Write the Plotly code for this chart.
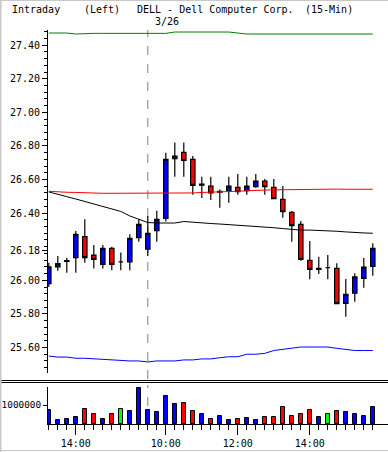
import plotly.graph_objects as go

# ---------------- data ----------------
times = ["13:15", "13:30", "13:45", "14:00", "14:15", "14:30", "14:45", "15:00", "15:15", "15:30", "15:45",
         "09:30", "09:45", "10:00", "10:15", "10:30", "10:45", "11:00", "11:15", "11:30", "11:45",
         "12:00", "12:15", "12:30", "12:45", "13:00", "13:15", "13:30", "13:45", "14:00", "14:15",
         "14:30", "14:45", "15:00", "15:15", "15:30", "15:45"]

opens = [25.98, 26.08, 26.112, 26.135, 26.26, 26.15, 26.095, 26.19, 26.11, 26.11, 26.254,
         26.185, 26.295, 26.369, 26.724, 26.762, 26.72, 26.566, 26.561, 26.525, 26.533,
         26.553, 26.533, 26.557, 26.591, 26.553, 26.482, 26.405, 26.333, 26.119, 26.065,
         26.075, 26.071, 25.863, 25.923, 26.012, 26.083]
highs = [26.105, 26.145, 26.135, 26.293, 26.363, 26.21, 26.21, 26.20, 26.165, 26.274, 26.363,
         26.383, 26.414, 26.76, 26.82, 26.82, 26.74, 26.617, 26.617, 26.54, 26.617,
         26.633, 26.617, 26.633, 26.603, 26.603, 26.561, 26.413, 26.353, 26.234, 26.14,
         26.15, 26.101, 26.008, 26.042, 26.133, 26.22]
lows = [25.96, 26.057, 26.045, 26.045, 26.105, 26.07, 26.07, 26.06, 26.06, 26.06, 26.23,
        26.145, 26.23, 26.35, 26.617, 26.617, 26.51, 26.49, 26.478, 26.432, 26.462,
        26.51, 26.51, 26.551, 26.51, 26.482, 26.373, 26.23, 26.117, 26.006, 26.037,
        26.006, 25.857, 25.783, 25.873, 25.956, 26.027]
closes = [26.08, 26.10, 26.118, 26.274, 26.135, 26.125, 26.19, 26.095, 26.11, 26.25, 26.333,
          26.28, 26.363, 26.72, 26.74, 26.714, 26.565, 26.573, 26.52, 26.529, 26.561,
          26.527, 26.561, 26.591, 26.557, 26.486, 26.408, 26.325, 26.125, 26.065, 26.071,
          26.075, 25.861, 25.917, 26.02, 26.079, 26.19]
volumes = [740000, 220000, 270000, 380000, 790000, 530000, 270000, 530000, 790000, 690000, 1880000,
           740000, 640000, 1470000, 1050000, 1100000, 690000, 530000, 270000, 430000, 220000,
           270000, 330000, 220000, 380000, 380000, 900000, 430000, 530000, 740000, 380000,
           530000, 690000, 640000, 530000, 430000, 900000]

ma_black = [26.526, 26.514, 26.498, 26.484, 26.469, 26.454, 26.442, 26.427, 26.41, 26.383, 26.362,
            26.344, 26.341, 26.341, 26.341, 26.35, 26.345, 26.341, 26.338, 26.335, 26.332,
            26.329, 26.323, 26.321, 26.317, 26.313, 26.308, 26.302, 26.299, 26.299, 26.298,
            26.296, 26.292, 26.288, 26.283, 26.282, 26.28]
bb_mid = [26.530, 26.526, 26.524, 26.523, 26.520, 26.518, 26.518, 26.518, 26.518, 26.518, 26.518,
          26.518, 26.518, 26.518, 26.518, 26.518, 26.520, 26.523, 26.524, 26.526, 26.527,
          26.530, 26.533, 26.536, 26.537, 26.539, 26.539, 26.540, 26.542, 26.543, 26.545,
          26.545, 26.543, 26.542, 26.542, 26.542, 26.542]
bb_upper = [27.472, 27.472, 27.472, 27.466, 27.470, 27.470, 27.470, 27.470, 27.470, 27.470, 27.470,
            27.470, 27.470, 27.470, 27.478, 27.478, 27.478, 27.478, 27.478, 27.478, 27.478,
            27.472, 27.466, 27.466, 27.466, 27.466, 27.466, 27.462, 27.462, 27.462, 27.462,
            27.462, 27.462, 27.466, 27.466, 27.466, 27.466]
bb_lower = [25.549, 25.543, 25.543, 25.536, 25.536, 25.532, 25.532, 25.524, 25.520, 25.520, 25.520,
            25.514, 25.520, 25.520, 25.520, 25.526, 25.526, 25.532, 25.532, 25.539, 25.545,
            25.545, 25.560, 25.560, 25.565, 25.582, 25.589, 25.595, 25.603, 25.603, 25.603,
            25.603, 25.595, 25.589, 25.582, 25.582, 25.582]

price_ticks = [25.6, 25.8, 26.0, 26.18, 26.4, 26.6, 26.8, 27.0, 27.2, 27.4]
price_tick_text = ["25.60", "25.80", "26.00", "26.18", "26.40", "26.60", "26.80", "27.00", "27.20", "27.40"]
vol_ticks = [1000000]
vol_tick_text = ["1000000"]
time_ticks = ["14:00", "10:00", "12:00", "14:00"]
time_tick_idx = [3, 13, 21, 29]
day_start_idx = 11
day_label = "3/26"

idx = list(range(len(times)))

UP, DOWN, FLAT = "#0000FF", "#FF0000", "#00FF00"
vol_colors = [FLAT if c == o else (UP if c > o else DOWN) for o, c in zip(opens, closes)]

FONT = "DejaVu Sans Mono"

fig = go.Figure()
fig.add_trace(go.Scatter(x=idx, y=bb_upper, mode="lines", line=dict(color="#008000", width=1),
                         xaxis="x", yaxis="y", hoverinfo="skip"))
fig.add_trace(go.Scatter(x=idx, y=bb_lower, mode="lines", line=dict(color="#0000FF", width=1),
                         xaxis="x", yaxis="y", hoverinfo="skip"))
fig.add_trace(go.Scatter(x=idx, y=bb_mid, mode="lines", line=dict(color="#FF0000", width=1),
                         xaxis="x", yaxis="y", hoverinfo="skip"))
fig.add_trace(go.Scatter(x=idx, y=ma_black, mode="lines", line=dict(color="#000000", width=1),
                         xaxis="x", yaxis="y", hoverinfo="skip"))
fig.add_trace(go.Candlestick(
    x=idx, open=opens, high=highs, low=lows, close=closes,
    increasing=dict(fillcolor=UP, line=dict(color="black", width=1.2)),
    decreasing=dict(fillcolor=DOWN, line=dict(color="black", width=1.2)),
    whiskerwidth=0, xaxis="x", yaxis="y"))
fig.add_trace(go.Bar(x=idx, y=volumes, marker=dict(color=vol_colors, line=dict(color="black", width=1)),
                     width=0.45, xaxis="x2", yaxis="y2"))

# layout geometry (pixels -> paper)
L, T, B, W, H = 48, 30, 28, 388, 452
PW = W - L
PH = H - T - B
def px(x):
    return (x - L) / PW
def py(y):
    return (H - B - y) / PH

xr = [-0.09, 37.69]

fig.update_layout(
    width=W, height=H,
    margin=dict(l=L, r=0, t=T, b=B, pad=0),
    paper_bgcolor="white", plot_bgcolor="white",
    showlegend=False,
    font=dict(family=FONT, size=10, color="black"),
    bargap=0,
    xaxis=dict(domain=[0, 1], anchor="y", range=xr, visible=False, showgrid=False,
               zeroline=False, rangeslider=dict(visible=False)),
    yaxis=dict(domain=[py(372.7), 1], anchor="x", range=[25.45, 27.49],
               tickmode="array", tickvals=price_ticks, ticktext=price_tick_text,
               ticks="outside", ticklen=5, tickcolor="black", tickwidth=1,
               showline=True, linecolor="black", linewidth=1,
               showgrid=False, zeroline=False,
               tickfont=dict(family=FONT, size=10, color="black"),
               minor=dict(tickmode="linear", tick0=25.0, dtick=0.04, ticks="outside",
                          ticklen=3, tickcolor="black", tickwidth=1, showgrid=False)),
    xaxis2=dict(domain=[0, 1], anchor="y2", range=xr,
                tickmode="array", tickvals=time_tick_idx, ticktext=time_ticks,
                ticks="outside", ticklen=10, tickcolor="black", tickwidth=1,
                showline=True, linecolor="black", linewidth=1,
                showgrid=False, zeroline=False,
                tickfont=dict(family=FONT, size=10, color="black"),
                minor=dict(tickmode="array", tickvals=idx, ticks="outside",
                           ticklen=5, tickcolor="black", tickwidth=1, showgrid=False)),
    yaxis2=dict(domain=[0, py(387)], anchor="x2", range=[0, 1950000],
                tickmode="array", tickvals=vol_ticks, ticktext=vol_tick_text,
                ticks="outside", ticklen=4, tickcolor="black", tickwidth=1,
                showline=True, linecolor="black", linewidth=1,
                showgrid=False, zeroline=False,
                tickfont=dict(family=FONT, size=9.4, color="black")),
)

shapes = []
# day separator (dashed)
for y0, y1 in [(py(379), 1.0), (0.0, py(385))]:
    shapes.append(dict(type="line", xref="x", yref="paper", x0=day_start_idx, x1=day_start_idx,
                       y0=y0, y1=y1, line=dict(color="#808080", width=1, dash="dash"), layer="below"))
# double separator between panels
for yy in [380.5, 382.5]:
    shapes.append(dict(type="line", xref="paper", yref="paper", x0=px(0), x1=px(W),
                       y0=py(yy), y1=py(yy), line=dict(color="black", width=1)))
# light window frame
shapes.append(dict(type="line", xref="paper", yref="paper", x0=px(0), x1=px(W), y0=py(0.5), y1=py(0.5),
                   line=dict(color="#c8c8c8", width=1)))
shapes.append(dict(type="line", xref="paper", yref="paper", x0=px(0), x1=px(W), y0=py(450.5), y1=py(450.5),
                   line=dict(color="#c8c8c8", width=1)))
shapes.append(dict(type="line", xref="paper", yref="paper", x0=px(0.5), x1=px(0.5), y0=py(0), y1=py(H),
                   line=dict(color="#c8c8c8", width=2)))
fig.update_layout(shapes=shapes)

title_parts = [("Intraday", 10), ("(Left)", 82), ("DELL - Dell Computer Corp.", 135), ("(15-Min)", 303)]
anns = []
for txt, x in title_parts:
    anns.append(dict(text=txt, xref="paper", yref="paper", x=px(x), y=py(9), xanchor="left",
                     yanchor="middle", showarrow=False, font=dict(family=FONT, size=10, color="black")))
anns.append(dict(text=day_label, xref="paper", yref="paper", x=px(153), y=py(21), xanchor="left",
                 yanchor="middle", showarrow=False, font=dict(family=FONT, size=10, color="black")))
fig.update_layout(annotations=anns)

fig.write_html("out.html", config={"displayModeBar": False},
               post_script="document.body.style.margin='0';document.body.style.overflow='hidden';")
